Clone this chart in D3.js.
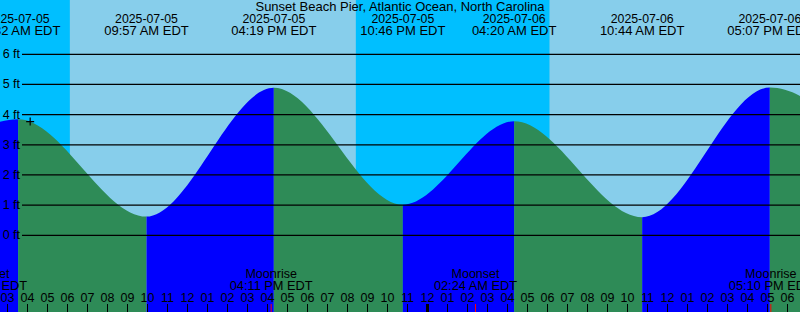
<!DOCTYPE html>
<html>
<head>
<meta charset="utf-8">
<script src="https://cdn.jsdelivr.net/npm/d3@7"></script>
<style>
  body { margin: 0; }
  svg { display: block; font-family: "Liberation Sans", Arial, sans-serif; }
</style>
</head>
<body>
<svg width="800" height="312"></svg>
<script>
// tide extremes (times local EDT) and heights in ft
var tideTimes   = ["2025-07-04 21:10", "2025-07-05 03:32", "2025-07-05 09:57", "2025-07-05 16:19",
                   "2025-07-05 22:46", "2025-07-06 04:20", "2025-07-06 10:44", "2025-07-06 17:07",
                   "2025-07-06 23:35"];
var tideHeights = [1.0, 3.85, 0.62, 4.89, 1.01, 3.78, 0.60, 4.90, 1.2];
var labelled    = [1, 2, 3, 4, 5, 6, 7];

// night bands [start, end]
var nightStart = ["2025-07-05 00:00", "2025-07-05 20:25", "2025-07-06 20:25"];
var nightEnd   = ["2025-07-05 06:07", "2025-07-06 06:06", "2025-07-07 06:00"];

// moon events
var moonTimes = ["2025-07-05 01:54", "2025-07-05 16:11", "2025-07-06 02:24", "2025-07-06 17:10"];
var moonNames = ["Moonset", "Moonrise", "Moonset", "Moonrise"];

var feetTicks = [0, 1, 2, 3, 4, 5, 6];
var title = "Sunset Beach Pier, Atlantic Ocean, North Carolina";
var nowTime = "2025-07-05 04:08", nowLevel = 3.77;

var parse = d3.timeParse("%Y-%m-%d %H:%M");
var parseS = d3.timeParse("%Y-%m-%d %H:%M:%S");
var W = 800, H = 312;
var svg = d3.select("svg");

var x = d3.scaleTime()
    .domain([parseS("2025-07-05 02:37:30"), parseS("2025-07-06 18:37:30")])
    .range([0, W]);
var y = d3.scaleLinear().domain([0, 6]).range([235.3, 54.3]);

// background (day)
svg.append("rect").attr("width", W).attr("height", H).attr("fill", "#87CEEB");
// night bands
svg.selectAll("rect.night").data(nightStart).enter().append("rect")
    .attr("class", "night")
    .attr("x", function(d) { return Math.max(0, x(parse(d))); })
    .attr("width", function(d, i) { return x(parse(nightEnd[i])) - Math.max(0, x(parse(d))); })
    .attr("y", 0).attr("height", H)
    .attr("fill", "#00BFFF");

var tide = tideTimes.map(function(t, i) { return { t: parse(t), h: tideHeights[i] }; });
var area = d3.area()
    .x(function(d) { return x(d.t); })
    .y0(H)
    .y1(function(d) { return y(d.h); })
    .curve(d3.curveMonotoneX);

var defs = svg.append("defs");
for (var i = 0; i < tide.length - 1; i++) {
    defs.append("clipPath").attr("id", "seg" + i)
      .append("rect")
        .attr("x", x(tide[i].t)).attr("y", 0)
        .attr("width", x(tide[i + 1].t) - x(tide[i].t)).attr("height", H);
    svg.append("path")
        .attr("d", area(tide))
        .attr("clip-path", "url(#seg" + i + ")")
        .attr("fill", tide[i + 1].h > tide[i].h ? "#0000FF" : "#2E8B57");
}

// grid lines + ft labels
svg.selectAll("line.grid").data(feetTicks).enter().append("line")
    .attr("x1", 22).attr("x2", W)
    .attr("y1", function(d) { return y(d); })
    .attr("y2", function(d) { return y(d); })
    .attr("stroke", "#000").attr("stroke-width", 1.3);
svg.selectAll("text.ft").data(feetTicks).enter().append("text")
    .attr("x", 20).attr("y", function(d) { return y(d) + 4; })
    .attr("text-anchor", "end").attr("font-size", "12.5px")
    .text(function(d) { return d + " ft"; });

// title
svg.append("text").attr("x", 400).attr("y", 10.5).attr("text-anchor", "middle")
    .attr("font-size", "13px").text(title);

// extreme labels
var fDate = d3.timeFormat("%Y-%m-%d"), fTime = d3.timeFormat("%I:%M %p EDT");
labelled.forEach(function(i) {
    var cx = x(tide[i].t);
    svg.append("text").attr("x", cx).attr("y", 23).attr("text-anchor", "middle")
        .attr("font-size", "12.3px").text(fDate(tide[i].t));
    svg.append("text").attr("x", cx).attr("y", 35).attr("text-anchor", "middle")
        .attr("font-size", "13px").text(fTime(tide[i].t));
});

// now marker
var nx = x(parse(nowTime)), ny = y(nowLevel);
svg.append("path").attr("d", "M" + (nx - 4) + "," + ny + "H" + (nx + 4) + "M" + nx + "," + (ny - 4) + "V" + (ny + 4))
    .attr("stroke", "#000").attr("stroke-width", 1.2);

// moon labels
moonTimes.forEach(function(t, i) {
    var d = parse(t), cx = x(d);
    svg.append("text").attr("x", cx).attr("y", 278).attr("text-anchor", "middle")
        .attr("font-size", "12.5px").text(moonNames[i]);
    svg.append("text").attr("x", cx).attr("y", 289.5).attr("text-anchor", "middle")
        .attr("font-size", "12.8px").text(fTime(d));
});

// hour ticks
var hours = x.ticks(d3.timeHour.every(1));
svg.selectAll("text.hr").data(hours).enter().append("text")
    .attr("x", function(d) { return x(d); }).attr("y", 301.5)
    .attr("text-anchor", "middle").attr("font-size", "12.5px")
    .text(d3.timeFormat("%I"));
svg.selectAll("line.hr").data(hours).enter().append("line")
    .attr("x1", function(d) { return x(d); }).attr("x2", function(d) { return x(d); })
    .attr("y1", 304).attr("y2", H)
    .attr("stroke", "#000")
    .attr("stroke-width", function(d) { return d.getHours() === 0 ? 3 : 1; });
svg.selectAll("line.moon").data(moonTimes).enter().append("line")
    .attr("x1", function(d) { return x(parse(d)); }).attr("x2", function(d) { return x(parse(d)); })
    .attr("y1", 304).attr("y2", H)
    .attr("stroke", "#FF0000").attr("stroke-width", 1);
</script>
</body>
</html>
